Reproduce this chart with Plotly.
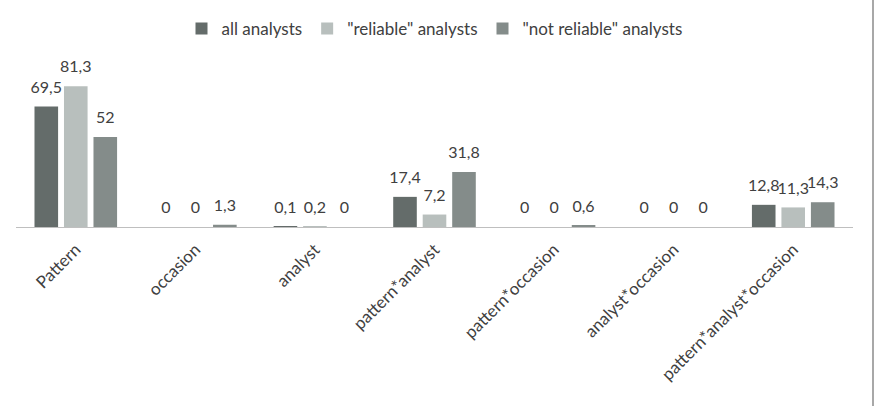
import plotly.graph_objects as go

categories = ["Pattern", "occasion", "analyst", "pattern*analyst",
              "pattern*occasion", "analyst*occasion", "pattern*analyst*occasion"]
series_names = ["all analysts", "\"reliable\" analysts", "\"not reliable\" analysts"]
all_analysts = [69.5, 0, 0.1, 17.4, 0, 0, 12.8]
reliable = [81.3, 0, 0.2, 7.2, 0, 0, 11.3]
not_reliable = [52, 1.3, 0, 31.8, 0.6, 0, 14.3]
colors = ["#646c6a", "#b8bfbd", "#848c8a"]

FONT = "Lato"
GAP = 0.26


def fmt(v):
    return f"{v:g}".replace(".", ",")


fig = go.Figure()
for name, vals, col in zip(series_names, [all_analysts, reliable, not_reliable], colors):
    fig.add_trace(go.Bar(
        x=categories, y=vals, name=name,
        marker=dict(color=col, line=dict(width=0)),
        cliponaxis=False, hoverinfo="skip",
    ))
for name, vals in zip(series_names, [all_analysts, reliable, not_reliable]):
    fig.add_trace(go.Scatter(
        x=categories, y=vals, name=name, showlegend=False,
        mode="markers+text",
        marker=dict(size=14, opacity=0),
        text=[fmt(v) for v in vals],
        textposition="top center",
        textfont=dict(family=FONT, size=16, color="#404040"),
        cliponaxis=False, hoverinfo="skip",
    ))

fig.update_layout(
    width=877, height=406,
    paper_bgcolor="white", plot_bgcolor="white",
    barmode="group", bargap=GAP, bargroupgap=0.2,
    scattermode="group", scattergap=GAP,
    margin=dict(l=16, r=24, t=60, b=179, autoexpand=False),
    font=dict(family=FONT, size=16, color="#404040"),
    showlegend=True,
    legend=dict(orientation="h", x=0.5, xanchor="center", y=1.186, yanchor="middle",
                font=dict(family=FONT, size=17, color="#404040"),
                itemwidth=30, traceorder="normal"),
    xaxis=dict(tickangle=-45, showline=True, linecolor="#bfbfbf", linewidth=1,
               ticks="", showgrid=False, automargin=False, ticklabelstandoff=5,
               tickfont=dict(family=FONT, size=17, color="#404040")),
    yaxis=dict(range=[0, 96.4], visible=False, showgrid=False, zeroline=False),
    shapes=[dict(type="line", xref="paper", yref="paper",
                 x0=1.0239, x1=1.0239, y0=-1.1, y1=1.4,
                 line=dict(color="#a8a8a8", width=2))],
)

fig.write_html("out.html")
